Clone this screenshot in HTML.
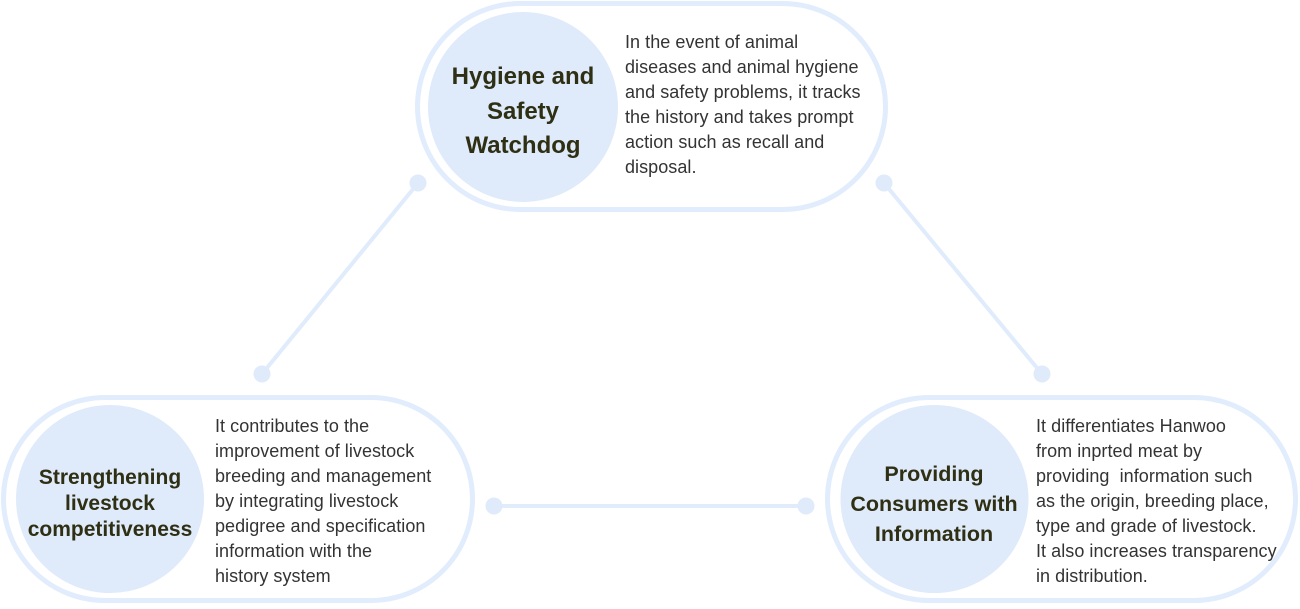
<!DOCTYPE html>
<html><head><meta charset="utf-8"><style>
html,body{margin:0;padding:0;background:#fff;}
body{width:1300px;height:609px;position:relative;overflow:hidden;font-family:"Liberation Sans","Noto Sans CJK KR",sans-serif;}
svg{position:absolute;left:0;top:0;}
.t{position:absolute;font-weight:bold;color:#2f2f14;text-align:center;white-space:nowrap;}
.b{position:absolute;color:#333;font-size:18px;line-height:25px;white-space:nowrap;letter-spacing:0.05px;}
</style></head><body>
<svg width="1300" height="609" viewBox="0 0 1300 609">
  <g stroke="#e0ecfb" stroke-width="4" fill="none">
    <line x1="418" y1="183" x2="262" y2="374"/>
    <line x1="884" y1="183" x2="1042" y2="374"/>
    <line x1="494" y1="506" x2="806" y2="506"/>
  </g>
  <g fill="#ffffff" stroke="#e1edfc" stroke-width="5">
    <rect x="417.5" y="3.5" width="468" height="206" rx="103" ry="103"/>
    <rect x="3.5" y="397.5" width="469" height="203" rx="101.5" ry="101.5"/>
    <rect x="827.5" y="397.5" width="468" height="203" rx="101.5" ry="101.5"/>
  </g>
  <g fill="#dfebfb">
    <circle cx="418" cy="183" r="8.5"/>
    <circle cx="262" cy="374" r="8.5"/>
    <circle cx="884" cy="183" r="8.5"/>
    <circle cx="1042" cy="374" r="8.5"/>
    <circle cx="494" cy="506" r="8.5"/>
    <circle cx="806" cy="506" r="8.5"/>
    <circle cx="523" cy="107" r="95"/>
    <circle cx="110" cy="499" r="94"/>
    <circle cx="934.5" cy="499" r="94"/>
  </g>
</svg>

<div class="t" style="left:423px;width:200px;top:60px;font-size:24px;line-height:34.5px;">Hygiene and<br>Safety<br>Watchdog</div>
<div class="b" style="left:625px;top:30px;">In the event of animal<br>diseases and animal hygiene<br>and safety problems, it tracks<br>the history and takes prompt<br>action such as recall and<br>disposal.</div>

<div class="t" style="left:10px;width:200px;top:465px;font-size:21px;line-height:25.8px;">Strengthening<br>livestock<br>competitiveness</div>
<div class="b" style="left:215px;top:414px;">It contributes to the<br>improvement of livestock<br>breeding and management<br>by integrating livestock<br>pedigree and specification<br>information with the<br>history system</div>

<div class="t" style="left:834px;width:200px;top:459px;font-size:21.5px;line-height:30px;">Providing<br>Consumers with<br>Information</div>
<div class="b" style="left:1036px;top:414px;">It differentiates Hanwoo<br>from inprted meat by<br>providing&nbsp; information such<br>as the origin, breeding place,<br>type and grade of livestock.<br>It also increases transparency<br>in distribution.</div>
</body></html>
